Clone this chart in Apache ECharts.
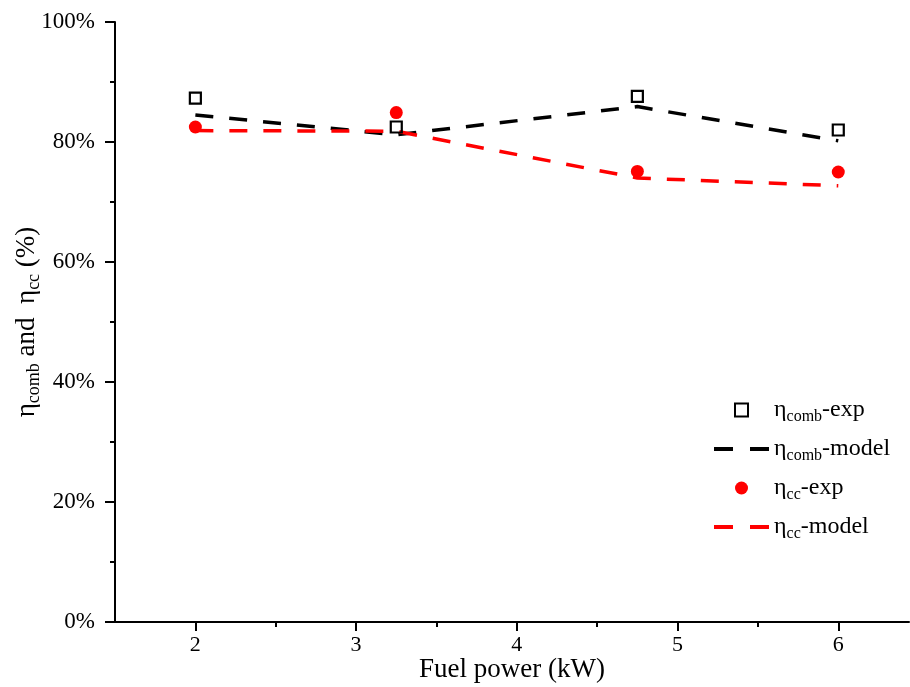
<!DOCTYPE html>
<html>
<head>
<meta charset="utf-8">
<script src="https://cdn.jsdelivr.net/npm/echarts@6/dist/echarts.min.js"></script>
<style>
  html, body { margin: 0; padding: 0; background: #fff; }
  #chart { width: 910px; height: 687px; }
</style>
</head>
<body>
<div id="chart"></div>
<script>
// Fuel power (kW)
var power = [2, 3.25, 4.75, 6];
// Combustion efficiency, measured and modelled (%)
var combExp = [87.3, 82.5, 87.6, 82.0];
var combModel = [84.5, 81.2, 85.9, 80.2];
// Carbon conversion efficiency, measured and modelled (%)
var ccExp = [82.5, 84.9, 75.1, 75.0];
var ccModel = [81.9, 81.8, 74.0, 72.7];

var xTicks = [2, 3, 4, 5, 6];
var xMinorTicks = [2.5, 3.5, 4.5, 5.5];

function pairs(xs, ys) {
  return xs.map(function (x, i) { return [x, ys[i]]; });
}

var serif = '"Liberation Serif", "Times New Roman", serif';

function subRich(main, sub, pad) {
  return {
    n: { fontFamily: serif, fontSize: main, color: '#000' },
    s: { fontFamily: serif, fontSize: sub, color: '#000', padding: [pad, 0, 0, 0] }
  };
}

var chart = echarts.init(document.getElementById('chart'), null, { renderer: 'canvas' });

chart.setOption({
  animation: false,
  backgroundColor: '#fff',
  grid: { left: 115, right: 1, top: 22, bottom: 65, containLabel: false, outerBoundsMode: 'none' },
  xAxis: [{
    type: 'value',
    min: 1.5,
    max: 6.44,
    splitLine: { show: false },
    axisLine: { show: true, onZero: false, lineStyle: { color: '#000', width: 2 } },
    axisTick: { show: true, customValues: xTicks, length: 9, lineStyle: { color: '#000', width: 2 } },
    axisLabel: { customValues: xTicks, color: '#000', fontFamily: serif, fontSize: 22, margin: 12 },
    name: 'Fuel power (kW)',
    nameLocation: 'middle',
    nameGap: 34,
    nameMoveOverlap: false,
    nameTextStyle: { color: '#000', fontFamily: serif, fontSize: 27 }
  }, {
    type: 'value',
    position: 'bottom',
    min: 1.5,
    max: 6.44,
    splitLine: { show: false },
    axisLine: { show: false },
    axisTick: { show: true, customValues: xMinorTicks, length: 5, lineStyle: { color: '#000', width: 2 } },
    axisLabel: { show: false }
  }],
  yAxis: {
    type: 'value',
    min: 0,
    max: 100,
    interval: 20,
    splitLine: { show: false },
    axisLine: { show: true, lineStyle: { color: '#000', width: 2 } },
    axisTick: { show: true, length: 10, lineStyle: { color: '#000', width: 2 } },
    minorTick: { show: true, splitNumber: 2, length: 5, lineStyle: { color: '#000', width: 2 } },
    axisLabel: {
      color: '#000', fontFamily: serif, fontSize: 23, margin: 20,
      formatter: function (v) { return v + '%'; }
    },
    name: '{n|η}{s|comb}{n| and  η}{s|cc}{n| (%)}',
    nameLocation: 'middle',
    nameRotate: 90,
    nameGap: 72,
    nameMoveOverlap: false,
    nameTextStyle: { rich: subRich(27, 18, 15) }
  },
  legend: {
    orient: 'vertical',
    left: 707,
    top: 393,
    itemWidth: 55,
    itemHeight: 13,
    itemGap: 12,
    data: [
      { name: 'combExp', icon: 'path://M0,0L10,0L10,10L0,10Z' },
      { name: 'combModel', itemStyle: { opacity: 0 }, lineStyle: { width: 4, type: [19, 17] } },
      { name: 'ccExp' },
      { name: 'ccModel', itemStyle: { opacity: 0 }, lineStyle: { width: 4, type: [19, 17] } }
    ],
    formatter: function (name) {
      var labels = {
        combExp: '{n|η}{s|comb}{n|-exp}',
        combModel: '{n|η}{s|comb}{n|-model}',
        ccExp: '{n|η}{s|cc}{n|-exp}',
        ccModel: '{n|η}{s|cc}{n|-model}'
      };
      return labels[name];
    },
    textStyle: { rich: subRich(24, 16, 14) }
  },
  series: [{
    name: 'combModel',
    type: 'line',
    data: pairs(power, combModel),
    symbol: 'none',
    z: 2,
    lineStyle: { color: '#000', width: 3.5, type: [18, 16] },
    itemStyle: { color: '#000' }
  }, {
    name: 'ccModel',
    type: 'line',
    data: pairs(power, ccModel),
    symbol: 'none',
    z: 2,
    lineStyle: { color: '#ff0000', width: 3.5, type: [18, 16] },
    itemStyle: { color: '#ff0000' }
  }, {
    name: 'combExp',
    type: 'scatter',
    data: pairs(power, combExp),
    symbol: 'rect',
    symbolSize: 11,
    z: 3,
    itemStyle: { color: 'rgba(255,255,255,0)', borderColor: '#000', borderWidth: 2.2, opacity: 1 }
  }, {
    name: 'ccExp',
    type: 'scatter',
    data: pairs(power, ccExp),
    symbol: 'circle',
    symbolSize: 13,
    z: 3,
    itemStyle: { color: '#ff0000', opacity: 1 }
  }]
});
</script>
</body>
</html>
